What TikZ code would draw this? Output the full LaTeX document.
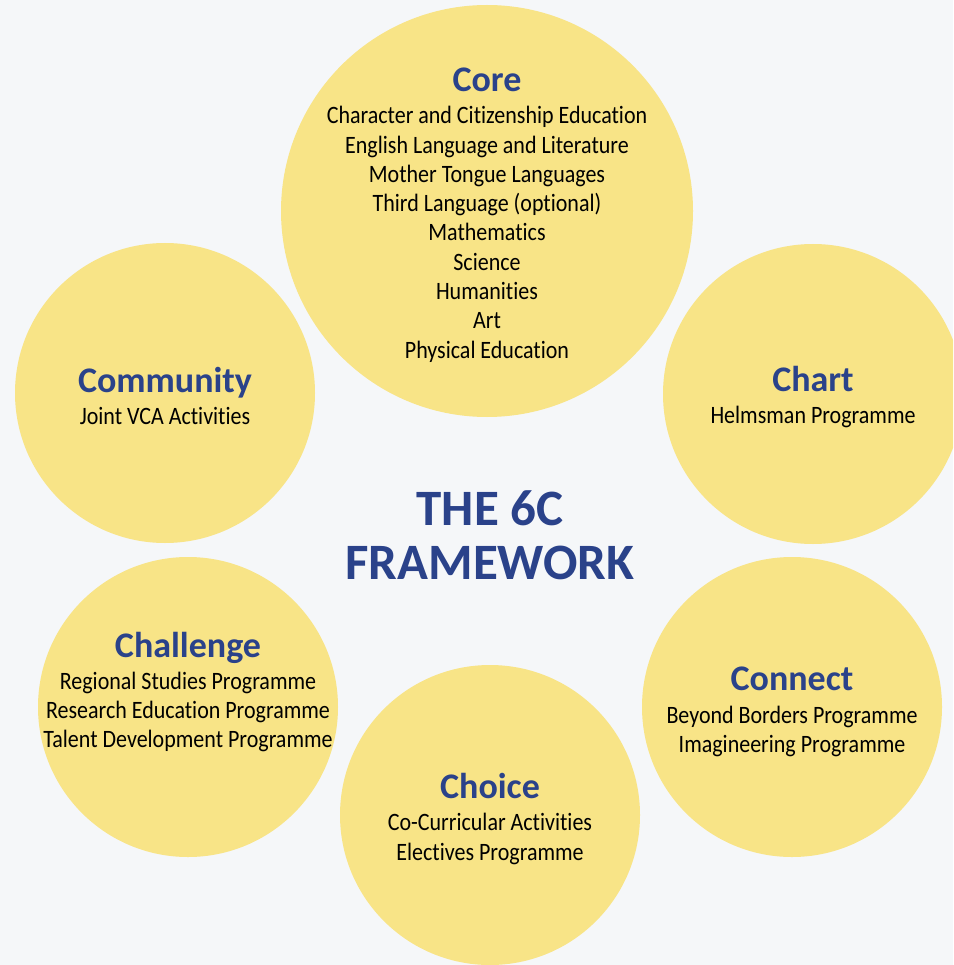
\documentclass[tikz,border=0pt]{standalone}
\usepackage{fontspec}
\usepackage{xcolor}
\usepackage{tikz}
\setmainfont{Carlito}[Ligatures=NoCommon]
\newfontfamily\bodyfam{Carlito}[FakeStretch=0.88, Ligatures=NoCommon]
\definecolor{bgcol}{RGB}{245,247,249}
\definecolor{bubblecol}{RGB}{248,228,135}
\definecolor{titleblue}{RGB}{42,66,138}
\newcommand{\bodyfont}{\bodyfam\fontsize{25}{29.3}\selectfont}
\newcommand{\headfont}{\rmfamily\fontsize{36}{38}\selectfont\bfseries}
\newcommand{\chead}[1]{{\headfont\color{titleblue}#1}\\[3pt]}
\tikzstyle{bubble} = [circle, fill=bubblecol, minimum size=300pt, inner sep=0pt]
\tikzstyle{bigbubble} = [bubble, minimum size=412pt]
\tikzstyle{bubbletext} = [align=center, font=\bodyfont, text=black, inner sep=0pt, yshift=-4pt]
\tikzstyle{maintitle} = [align=center, font=\fontsize{51}{54}\selectfont\bfseries, text=titleblue, inner sep=0pt]
\begin{document}
\begin{tikzpicture}[x=1pt, y=-1pt]

		\fill [bgcol] (0,0) rectangle (953,965);
		\useasboundingbox (0,0) rectangle (953,965);
		\clip (0,0) rectangle (953,965);

		\node (core) [bigbubble] at (487,211) {};
		\node (community) [bubble] at (165,393) {};
		\node (chart) [bubble] at (813,394) {};
		\node (challenge) [bubble] at (188,707) {};
		\node (connect) [bubble] at (792,707) {};
		\node (choice) [bubble] at (490,815) {};

		\node (coretext) [bubbletext] at (core.center) {\chead{Core}
			Character and Citizenship Education\\ English Language and Literature\\
			Mother Tongue Languages\\ Third Language (optional)\\ Mathematics\\
			Science\\ Humanities\\ Art\\ Physical Education};
		\node (communitytext) [bubbletext, yshift=1pt] at (community.center) {\chead{Community} Joint VCA Activities};
		\node (charttext) [bubbletext, yshift=1pt] at (chart.center) {\chead{Chart} Helmsman Programme};
		\node (challengetext) [bubbletext, yshift=19pt] at (challenge.center) {\chead{Challenge}
			Regional Studies Programme\\ Research Education Programme\\ Talent Development Programme};
		\node (connecttext) [bubbletext, yshift=-1pt] at (connect.center) {\chead{Connect}
			Beyond Borders Programme\\ Imagineering Programme};
		\node (choicetext) [bubbletext] at (choice.center) {\chead{Choice}
			Co-Curricular Activities\\ Electives Programme};

		\node (framework) [maintitle] at (490,535) {THE 6C\\ FRAMEWORK};
	\end{tikzpicture}
\end{document}
